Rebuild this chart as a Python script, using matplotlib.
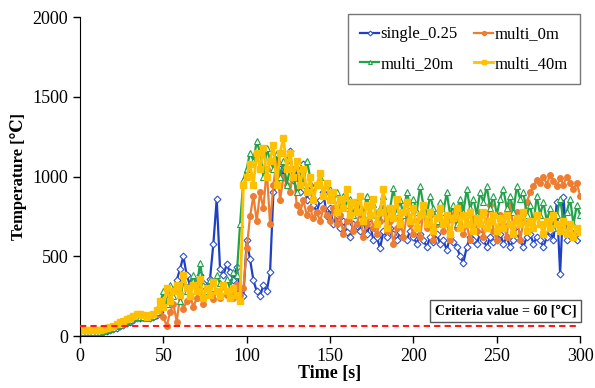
import numpy as np
import matplotlib
matplotlib.use("Agg")
import matplotlib.pyplot as plt

time_s = list(range(0, 301, 2))

single_025 = [20,20,20,20,20,22,24,26,30,35,42,50,60,70,80,90,
    100,110,115,120,118,115,120,130,150,
    200,250,300,280,350,420,500,380,320,350,300,380,330,300,360,580,860,420,380,450,400,350,430,280,250,
    600,480,350,280,250,320,280,400,900,960,1050,1000,1100,1160,980,
    1050,900,1080,850,950,820,780,850,900,750,800,
    700,760,680,720,650,620,700,690,660,720,640,700,600,620,550,660,620,680,640,600,650,620,600,660,620,
    580,640,600,560,620,590,640,580,600,540,620,590,560,500,460,560,620,600,580,640,600,560,620,590,600,
    640,580,620,560,600,650,600,560,620,640,580,620,600,560,620,660,600,840,390,870,600,660,640,600,620]

multi_0m = [25,25,25,25,26,28,30,35,40,48,55,65,75,85,95,100,
    110,115,120,115,110,120,125,140,180,
    120,60,150,200,90,250,170,220,260,180,240,300,200,260,300,230,280,240,300,260,280,240,320,260,300,
    550,750,880,720,900,800,1050,700,950,1100,850,1000,950,900,1050,
    820,780,850,760,800,740,780,720,800,760,720,
    800,700,760,640,720,780,660,700,780,620,700,760,680,640,720,800,660,720,580,680,740,620,760,700,640,
    720,620,780,680,760,600,700,820,660,720,600,760,680,820,640,700,600,740,660,780,620,720,820,660,600,
    760,700,620,820,680,780,600,720,840,900,940,980,960,1000,950,1010,970,940,990,950,1000,960,920,960,880]

multi_20m = [22,22,22,22,24,26,28,32,38,45,52,62,72,82,92,100,
    110,118,122,118,112,118,125,150,200,
    280,200,320,250,300,220,350,280,320,380,300,460,320,280,350,300,380,330,280,360,300,400,380,700,980,
    1050,1150,1100,1220,1150,1000,1180,1100,1050,1150,1000,1100,950,1050,1000,
    900,1050,950,1100,1000,880,950,1000,900,880,920,
    850,900,800,880,820,860,760,840,800,760,880,780,830,760,800,880,740,800,930,780,850,760,900,820,860,
    780,940,820,760,880,800,720,840,780,900,760,820,700,860,780,920,800,860,760,900,840,940,800,880,760,
    860,920,800,880,780,940,860,900,760,820,700,880,760,840,720,800,680,760,860,720,780,860,700,820,760]

multi_40m = [35,35,35,35,36,38,40,45,50,58,65,75,85,95,105,115,
    125,135,140,130,120,130,140,160,220,
    180,300,220,280,320,260,380,300,250,320,280,360,240,300,260,340,280,250,320,280,240,300,260,220,950,
    1000,1080,950,1150,1050,1180,1000,1100,1200,950,1150,1240,1050,1150,1000,
    1100,950,1050,900,1000,850,950,1020,880,960,850,
    900,780,860,800,920,760,840,780,880,720,820,760,860,700,780,920,680,800,740,860,700,780,840,720,800,
    680,760,820,700,780,660,740,800,700,760,640,740,800,680,760,700,780,660,740,700,780,680,720,760,660,
    740,680,760,700,640,740,700,780,660,720,680,760,700,640,720,680,760,700,660,720,640,700,620,680,650]

criteria = 60
x_ticks = [0, 50, 100, 150, 200, 250, 300]
y_ticks = [0, 500, 1000, 1500, 2000]

plt.rcParams['font.family'] = ['Liberation Serif', 'DejaVu Serif']

fig = plt.figure(figsize=(5.95, 3.88), dpi=100)
ax = fig.add_axes([0.1345, 0.134, 0.8405, 0.822])

lw = 1.6
ms = 4
h1, = ax.plot(time_s, single_025, color='#1f3fc4', lw=lw, marker='D', ms=ms-0.5,
              mfc='white', mec='#3050d0', mew=0.8, label='single_0.25')
h2, = ax.plot(time_s, multi_0m, color='#ED7D31', lw=lw, marker='o', ms=ms,
              mfc='#ED7D31', mec='#ED7D31', label='multi_0m')
h3, = ax.plot(time_s, multi_20m, color='#22a24a', lw=lw, marker='^', ms=ms,
              mfc='white', mec='#22a24a', mew=0.8, label='multi_20m')
h4, = ax.plot(time_s, multi_40m, color='#FFC000', lw=lw+0.4, marker='s', ms=ms,
              mfc='#FFC000', mec='#FFC000', label='multi_40m')

ax.axhline(criteria, color='#ff1a1a', lw=1.5, ls=(0, (3, 2)), zorder=5)

ax.set_xlim(0, 300)
ax.set_ylim(0, 2000)
ax.set_xticks(x_ticks)
ax.set_yticks(y_ticks)
ax.tick_params(direction='out', length=5, labelsize=13, width=1)
ax.spines['top'].set_visible(False)
ax.spines['right'].set_visible(False)
ax.set_xlabel('Time [s]', fontsize=13, fontweight='bold', labelpad=0)
ax.set_ylabel('Temperature [℃]', fontsize=12, fontweight='bold', labelpad=4)

leg = ax.legend(handles=[h1, h3, h2, h4], ncol=2, loc='upper right',
                bbox_to_anchor=(1.0, 1.01), borderaxespad=0.0, fontsize=12,
                frameon=True, fancybox=False, edgecolor='#555555',
                handlelength=1.1, handletextpad=0.1, columnspacing=1.0,
                borderpad=0.75, labelspacing=0.8, markerscale=0.7)
leg.get_frame().set_linewidth(1.0)

ax.text(0.993, 0.078, 'Criteria value = 60 [℃]', transform=ax.transAxes,
        ha='right', va='center', fontsize=10, fontweight='bold',
        bbox=dict(boxstyle='square,pad=0.35', fc='white', ec='#555555', lw=1.0),
        zorder=6)

fig.savefig('out.png', dpi=100)
